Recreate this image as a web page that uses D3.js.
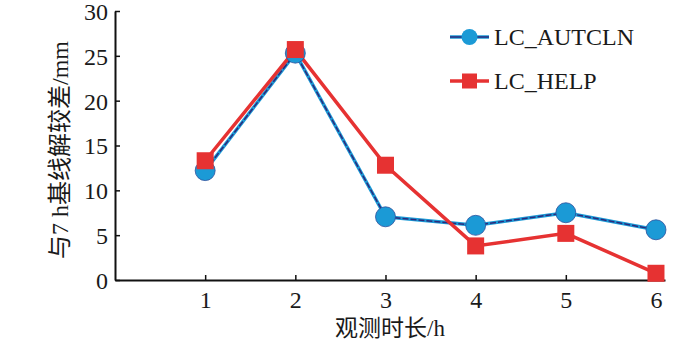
<!DOCTYPE html>
<html>
<head>
<meta charset="utf-8">
<script src="https://cdn.jsdelivr.net/npm/d3@7"></script>
<style>
  body { margin: 0; background: #fff; }
  text { font-family: "Liberation Serif", "Noto Sans CJK SC", serif; fill: #1a1a1a; }
</style>
</head>
<body>
<div id="chart"></div>
<script>
// data
const hours = [1, 2, 3, 4, 5, 6];
const autcln = [12.2, 25.3, 7.05, 6.1, 7.5, 5.6];
const help = [13.3, 25.7, 12.8, 3.8, 5.2, 0.75];
const yTicks = [0, 5, 10, 15, 20, 25, 30];
const seriesNames = ["LC_AUTCLN", "LC_HELP"];

const width = 700, height = 342;
const svg = d3.select("#chart").append("svg")
  .attr("width", width)
  .attr("height", height);

const x = d3.scaleLinear().domain([0, 6.1]).range([115, 665]);
const y = d3.scaleLinear().domain([0, 30]).range([280, 11]);

// axes
const xAxis = svg.append("g")
  .attr("transform", "translate(0," + y(0) + ")")
  .call(d3.axisBottom(x).tickValues(hours).tickFormat(d3.format("d"))
    .tickSizeInner(-5).tickSizeOuter(0).tickPadding(10));
const yAxis = svg.append("g")
  .attr("transform", "translate(" + x(0) + ",0)")
  .call(d3.axisLeft(y).tickValues(yTicks).tickFormat(d3.format("d"))
    .tickSizeInner(-5).tickSizeOuter(0).tickPadding(7));

[xAxis, yAxis].forEach(g => {
  g.select(".domain").attr("stroke", "#111").attr("stroke-width", 2);
  g.selectAll(".tick line").attr("stroke", "#111").attr("stroke-width", 1.5);
  g.selectAll(".tick text")
    .style("font-family", "Liberation Serif, serif")
    .style("font-size", "24px")
    .attr("fill", "#1a1a1a");
});
xAxis.selectAll(".tick text").attr("dy", "0.75em");
yAxis.selectAll(".tick text").attr("dy", "0.35em");

// axis titles
svg.append("text")
  .attr("x", 390)
  .attr("y", 336)
  .attr("text-anchor", "middle")
  .style("font-size", "23px")
  .text("观测时长/h");

svg.append("text")
  .attr("transform", "translate(68,150) rotate(-90)")
  .attr("text-anchor", "middle")
  .style("font-size", "24px")
  .text("与7 h基线解较差/mm");

const line = d3.line()
  .x((d, i) => x(hours[i]))
  .y(d => y(d));

// AUTCLN: light blue line with dark dashed core
svg.append("path").datum(autcln)
  .attr("d", line).attr("fill", "none")
  .attr("stroke", "#1b9ad6").attr("stroke-width", 3.5);
svg.append("path").datum(autcln)
  .attr("d", line).attr("fill", "none")
  .attr("stroke", "#2b2a7c").attr("stroke-width", 1.5)
  .attr("stroke-dasharray", "6,2");

// HELP: red line
svg.append("path").datum(help)
  .attr("d", line).attr("fill", "none")
  .attr("stroke", "#e63232").attr("stroke-width", 3.5);

svg.selectAll(".dot-autcln")
  .data(autcln)
  .enter()
  .append("circle")
  .attr("class", "dot-autcln")
  .attr("cx", (d, i) => x(hours[i]))
  .attr("cy", d => y(d))
  .attr("r", 10)
  .attr("fill", "#1b9ad6")
  .attr("stroke", "#2b4f9c")
  .attr("stroke-width", 0.8);

const sq = 17;
svg.selectAll(".dot-help")
  .data(help)
  .enter()
  .append("rect")
  .attr("class", "dot-help")
  .attr("x", (d, i) => x(hours[i]) - sq / 2)
  .attr("y", d => y(d) - sq / 2)
  .attr("width", sq)
  .attr("height", sq)
  .attr("fill", "#e63232");

// legend
const legend = svg.append("g");
const legY = [37, 81];
seriesNames.forEach((name, i) => {
  const ly = legY[i];
  const color = i === 0 ? "#1b9ad6" : "#e63232";
  legend.append("line")
    .attr("x1", 450).attr("x2", 489)
    .attr("y1", ly).attr("y2", ly)
    .attr("stroke", color).attr("stroke-width", 3.5);
  if (i === 0) {
    legend.append("line")
      .attr("x1", 450).attr("x2", 489)
      .attr("y1", ly).attr("y2", ly)
      .attr("stroke", "#2b2a7c").attr("stroke-width", 1.5);
    legend.append("circle")
      .attr("cx", 469.5).attr("cy", ly).attr("r", 8)
      .attr("fill", "#1b9ad6");
  } else {
    legend.append("rect")
      .attr("x", 462).attr("y", ly - 7.5)
      .attr("width", 15).attr("height", 15)
      .attr("fill", "#e63232");
  }
  legend.append("text")
    .attr("x", 494)
    .attr("y", ly)
    .attr("dy", "0.35em")
    .style("font-size", "24px")
    .text(name);
});
</script>
</body>
</html>
